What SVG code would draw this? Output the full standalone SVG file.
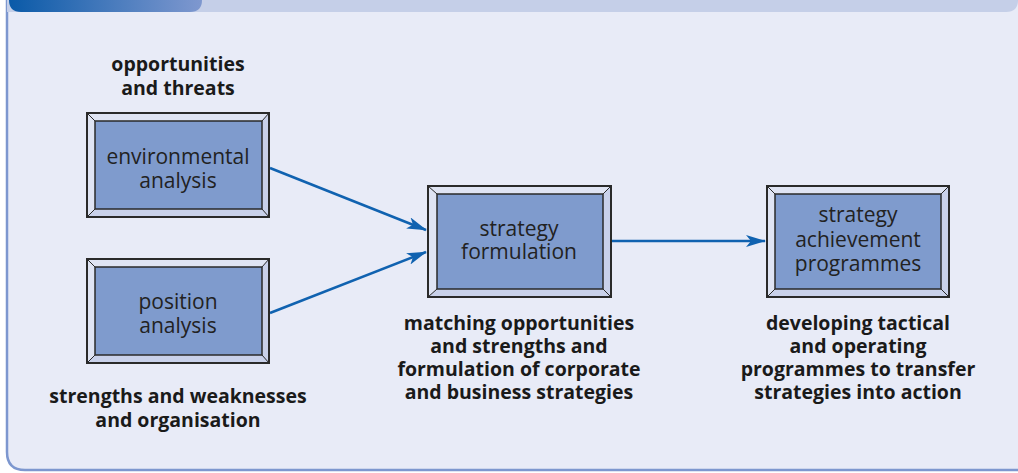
<svg xmlns="http://www.w3.org/2000/svg" width="1018" height="473" viewBox="0 0 1018 473">
<defs>
<linearGradient id="tab" x1="0" y1="0" x2="1" y2="0">
<stop offset="0" stop-color="#0a5aa8"/>
<stop offset="1" stop-color="#7f98cf"/>
</linearGradient>
<marker id="ah" viewBox="0 0 20 12" refX="19" refY="6" markerWidth="20" markerHeight="12" markerUnits="userSpaceOnUse" orient="auto">
<path d="M0,0 L20,6 L0,12 L5,6 Z" fill="#1062b0"/>
</marker>
<style>
.lbl{font-family:"Open Sans","Noto Sans",sans-serif;font-size:21px;fill:#222;text-anchor:middle}
.bl{font-family:"Open Sans","Noto Sans",sans-serif;font-size:19.5px;font-weight:bold;fill:#1a1a1a;text-anchor:middle}
.outer{fill:#c9d1ea;stroke:#2a2a2a;stroke-width:2}
.hi{fill:#dfe4f3}
.inner{fill:#7f9bcd;stroke:#2a2a2a;stroke-width:1.5}
.bev{stroke:#2a2a2a;stroke-width:1}
.con{stroke:#1062b0;stroke-width:2.5;fill:none;marker-end:url(#ah)}
</style>
</defs>
<rect x="0" y="0" width="1018" height="473" fill="#ffffff"/>
<path d="M7,0 H1040 V470 H25 Q7,470 7,452 Z" fill="#e8ebf7" stroke="#7d97cf" stroke-width="2.5"/>
<path d="M7,0 H1018 V0 Q1018,12 1006,12 H7 Z" fill="#c5cfe8"/>
<path d="M9,0 H202 Q202,12 190,12 H21 Q9,12 9,0 Z" fill="url(#tab)"/>

<g id="connectors">
<line class="con" x1="270" y1="168" x2="426" y2="230"/>
<line class="con" x1="270" y1="313" x2="426" y2="252"/>
<line class="con" x1="611" y1="241" x2="765" y2="241"/>
</g>

<g id="env">
<rect class="outer" x="87" y="113" width="182" height="104"/>
<path class="hi" d="M87,113 H269 L262,121 H95 V209 L87,217 Z"/>
<rect class="inner" x="95" y="121" width="167" height="88"/>
<path class="bev" d="M87,113 L95,121 M269,113 L262,121 M87,217 L95,209 M269,217 L262,209"/>
<rect x="87" y="113" width="182" height="104" fill="none" stroke="#2a2a2a" stroke-width="2"/>
<text class="lbl" x="178" y="164">environmental</text>
<text class="lbl" x="178" y="188">analysis</text>
</g>

<g id="pos">
<rect class="outer" x="87" y="259" width="182" height="104"/>
<path class="hi" d="M87,259 H269 L262,267 H95 V355 L87,363 Z"/>
<rect class="inner" x="95" y="267" width="167" height="88"/>
<path class="bev" d="M87,259 L95,267 M269,259 L262,267 M87,363 L95,355 M269,363 L262,355"/>
<rect x="87" y="259" width="182" height="104" fill="none" stroke="#2a2a2a" stroke-width="2"/>
<text class="lbl" x="178" y="309">position</text>
<text class="lbl" x="178" y="333">analysis</text>
</g>

<g id="form">
<rect class="outer" x="428" y="186" width="183" height="111"/>
<path class="hi" d="M428,186 H611 L603,194 H437 V289 L428,297 Z"/>
<rect class="inner" x="437" y="194" width="166" height="95"/>
<path class="bev" d="M428,186 L437,194 M611,186 L603,194 M428,297 L437,289 M611,297 L603,289"/>
<rect x="428" y="186" width="183" height="111" fill="none" stroke="#2a2a2a" stroke-width="2"/>
<text class="lbl" x="519" y="236">strategy</text>
<text class="lbl" x="519" y="259">formulation</text>
</g>

<g id="ach">
<rect class="outer" x="767" y="186" width="182" height="111"/>
<path class="hi" d="M767,186 H949 L941,194 H775 V289 L767,297 Z"/>
<rect class="inner" x="775" y="194" width="166" height="95"/>
<path class="bev" d="M767,186 L775,194 M949,186 L941,194 M767,297 L775,289 M949,297 L941,289"/>
<rect x="767" y="186" width="182" height="111" fill="none" stroke="#2a2a2a" stroke-width="2"/>
<text class="lbl" x="858" y="222">strategy</text>
<text class="lbl" x="858" y="247">achievement</text>
<text class="lbl" x="858" y="271">programmes</text>
</g>

<g id="labels">
<text class="bl" x="178" y="71">opportunities</text>
<text class="bl" x="178" y="95">and threats</text>
<text class="bl" x="178" y="403">strengths and weaknesses</text>
<text class="bl" x="178" y="427">and organisation</text>
<text class="bl" x="519" y="330">matching opportunities</text>
<text class="bl" x="519" y="353">and strengths and</text>
<text class="bl" x="519" y="376">formulation of corporate</text>
<text class="bl" x="519" y="399">and business strategies</text>
<text class="bl" x="858" y="330">developing tactical</text>
<text class="bl" x="858" y="353">and operating</text>
<text class="bl" x="858" y="376">programmes to transfer</text>
<text class="bl" x="858" y="399">strategies into action</text>
</g>
</svg>
